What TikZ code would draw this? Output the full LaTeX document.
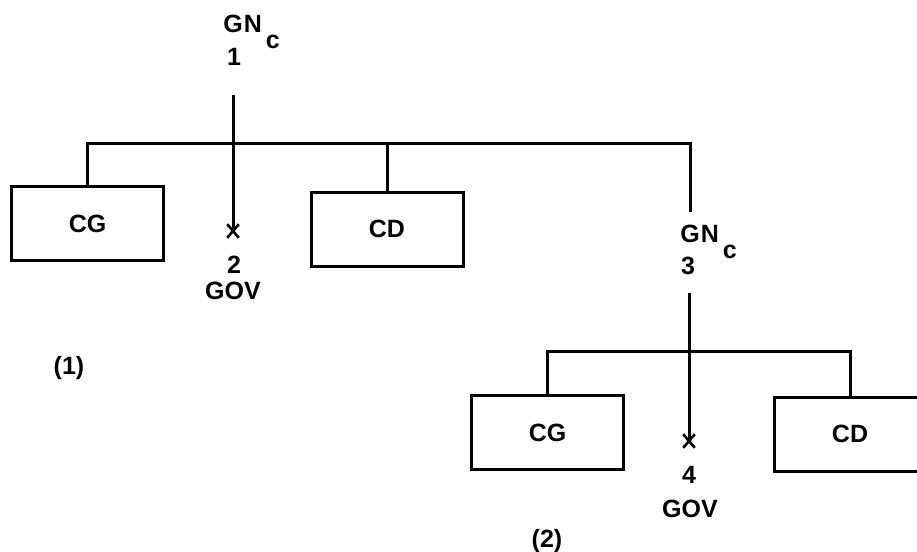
\documentclass[tikz,border=0pt]{standalone}
\usepackage{fontspec}
\setmainfont{Liberation Sans}
\usetikzlibrary{shapes.misc, arrows.meta}

\newcommand{\lblfont}{\fontsize{12.5}{14}\selectfont\bfseries}
\newcommand{\gnc}{G\hspace{0.5pt}N\hspace{2pt}\raisebox{-8pt}{c}}

\begin{document}
\begin{tikzpicture}[x=0.5pt, y=-0.5pt,
        catbox/.style={draw, line width=1.5pt, minimum width=76pt, minimum height=37pt, font=\lblfont},
        lbl/.style={inner sep=0pt, font=\lblfont},
        tree/.style={line width=1.5pt},
        govmark/.style={cross out, draw, line width=1.3pt, minimum width=4.5pt, minimum height=5.5pt, inner sep=0pt}]
        \useasboundingbox (0,0) rectangle (917,552);
        % Draw the constituent boxes
        \node[catbox] (cg1) at (87.5,223.5) {CG};
        \node[catbox] (cd1) at (387,229) {CD};
        \node[catbox] (cg2) at (547.5,432.5) {CG};
        \node[catbox] (cd2) at (850,434) {CD};
        % First tree (1)
        \node[lbl, anchor=base west] (gnA) at (223,32) {\gnc};
        \node[lbl, anchor=base] (idxA) at (234,65) {1};
        \node[govmark] (markA) at (233,231) {};
        \node[lbl, anchor=base] (idxB) at (234,273) {2};
        \node[lbl, anchor=base] (govB) at (233,299) {GOV};
        \node[lbl] (capA) at (69,368) {(1)};
        % Second tree (2)
        \node[lbl, anchor=base west] (gnC) at (680,242) {\gnc};
        \node[lbl, anchor=base] (idxC) at (688,274) {3};
        \node[govmark] (markD) at (689,441) {};
        \node[lbl, anchor=base] (idxD) at (689,483) {4};
        \node[lbl, anchor=base] (govD) at (690,517) {GOV};
        \node[lbl] (capB) at (547,541) {(2)};
        % Branch points
        \coordinate (topA) at (233,95);
        \coordinate (barR) at (690,143);
        \coordinate (stemC) at (690,212);
        \coordinate (topD) at (689,293);
        \coordinate (bar2) at (689,351);
        % Draw the branches
        \draw[tree] (topA) -- (markA.center);
        \draw[tree] (cg1.north) |- (barR) -- (stemC);
        \draw[tree] (cd1.north) -- (cd1.north |- barR);
        \draw[tree] (topD) -- (markD.center);
        \draw[tree] (cg2.north) |- (bar2) -| (cd2.north);
    \end{tikzpicture}
\end{document}
